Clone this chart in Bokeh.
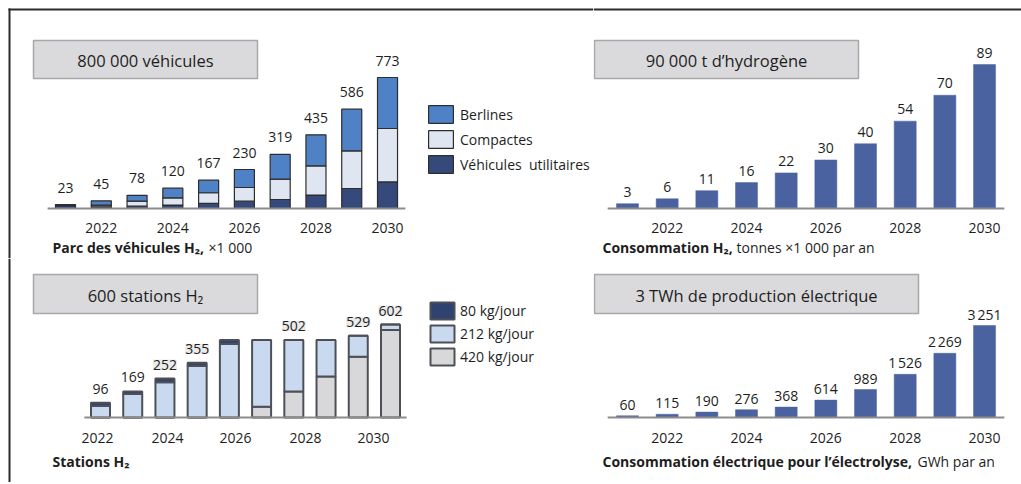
from bokeh.plotting import figure
from bokeh.layouts import column, row
from bokeh.models import (ColumnDataSource, LabelSet, Label, Legend, LegendItem,
                          FixedTicker, Range1d)
from bokeh.core.properties import value
from bokeh.embed import file_html
from bokeh.resources import INLINE

# ---------------- data ----------------
years = [2021, 2022, 2023, 2024, 2025, 2026, 2027, 2028, 2029, 2030]
tick_years = [2022, 2024, 2026, 2028, 2030]

# Parc des véhicules H2 (x 1 000)
veh_utilitaires = [17, 10, 14, 20, 30, 43, 53, 79, 118, 157]
veh_compactes = [2, 10, 30, 43, 63, 81, 120, 173, 222, 315]
veh_berlines = [4, 25, 34, 57, 74, 106, 146, 183, 246, 301]
veh_totaux = [23, 45, 78, 120, 167, 230, 319, 435, 586, 773]

# Consommation H2 (tonnes x 1 000 par an)
h2_conso = [3, 6, 11, 16, 22, 30, 40, 54, 70, 89]

# Stations H2
st_80 = [22, 17, 24, 22, 26, 0, 0, 0, 0, 0]
st_212 = [74, 152, 228, 333, 476, 433, 333, 236, 135, 35]
st_420 = [0, 0, 0, 0, 0, 69, 169, 266, 394, 567]
st_totaux = [96, 169, 252, 355, 502, 502, 502, 502, 529, 602]
st_labels = ["96", "169", "252", "355", "", "", "502", "", "529", "602"]
st_label_boxed = [False, False, True, True, False, False, True, False, True, True]
st_tick_labels = ["2022", "2024", "2026", "2028", "2030"]

# Consommation électrique pour l'électrolyse (GWh par an)
elec_conso = [60, 115, 190, 276, 368, 614, 989, 1526, 2269, 3251]

# ---------------- style ----------------
FONT = "Open Sans"
TXT = "#1e1e1e"
BOX_FILL = "#dadadc"
BOX_LINE = "#a8a8a8"
BASE_LINE = "#8c8c8c"
BAR_BLUE = "#4a62a0"
FRAME = "#2b2b2b"


def fmt(v):
    s = f"{v:,}"
    return s.replace(",", "\u202f")


def make_panel(width, height, left, top, bar0_x, step, base_y, upp, standoff,
               frame_top=False, frame_left=False):
    x_start = years[0] - (bar0_x - left) / step
    x_end = x_start + width / step
    y_end = (base_y - top) * upp
    y_start = -(top + height - base_y) * upp
    p = figure(width=width, height=height,
               x_range=Range1d(x_start, x_end), y_range=Range1d(y_start, y_end),
               output_backend="svg", toolbar_location=None, y_axis_location=None,
               min_border_left=0, min_border_right=0, min_border_top=0,
               min_border_bottom=0)
    p.outline_line_color = None
    p.xgrid.visible = False
    p.ygrid.visible = False
    p.background_fill_color = "white"
    p.border_fill_color = "white"
    ax = p.xaxis[0]
    ax.fixed_location = 0
    ax.axis_line_color = None
    ax.major_tick_line_color = None
    ax.minor_tick_line_color = None
    ax.major_tick_out = 0
    ax.major_tick_in = 0
    ax.major_label_standoff = standoff
    ax.major_label_text_font = FONT
    ax.major_label_text_font_size = "14px"
    ax.major_label_text_color = TXT
    ax.ticker = FixedTicker(ticks=tick_years)

    def fx(X):
        return x_start + (X - left) / step

    def fy(Y):
        return (base_y - Y) * upp

    if frame_top:
        x_from = fx(8) if frame_left else x_start
        p.segment(x0=[x_from], x1=[x_end], y0=[fy(9)], y1=[fy(9)],
                  line_color=FRAME, line_width=2)
    if frame_left:
        y_from = fy(8) if frame_top else y_end
        p.segment(x0=[fx(9)], x1=[fx(9)], y0=[y_start], y1=[y_from],
                  line_color=FRAME, line_width=2)
    return p, fx, fy


def title_box(p, fx, fy, l, r, t, b, text):
    p.quad(left=[fx(l)], right=[fx(r)], top=[fy(t)], bottom=[fy(b)],
           fill_color=BOX_FILL, line_color=BOX_LINE, line_width=1.5)
    p.text(x=[fx((l + r) / 2)], y=[fy((t + b) / 2 + 1)], text=[text],
           text_align="center", text_baseline="middle",
           text_font=value(FONT), text_font_size="16.5px", text_color=TXT)


def axis_label(p, fx, fy, X, Y, bold, normal=None, bold_w=0):
    p.add_layout(Label(x=fx(X), y=fy(Y), text=bold, text_font=FONT,
                       text_font_style="bold", text_font_size="14px",
                       text_color=TXT, text_baseline="alphabetic"))
    if normal:
        p.add_layout(Label(x=fx(X), y=fy(Y), x_offset=bold_w, text=normal,
                           text_font=FONT, text_font_size="14px",
                           text_color=TXT, text_baseline="alphabetic"))


def baseline(p):
    p.segment(x0=[years[0] - 0.5], y0=[0], x1=[years[-1] + 0.5], y1=[0],
              line_color=BASE_LINE, line_width=2)


def value_labels(p, xs, ys, texts, gap_units, boxed=None):
    if boxed is None:
        boxed = [False] * len(xs)
    for flag in (False, True):
        idx = [i for i in range(len(xs)) if boxed[i] == flag and texts[i]]
        if not idx:
            continue
        src = ColumnDataSource(dict(x=[xs[i] for i in idx],
                                    y=[ys[i] + gap_units for i in idx],
                                    t=[texts[i] for i in idx]))
        kw = {}
        if flag:
            kw = dict(background_fill_color="#ebebeb")
        p.add_layout(LabelSet(x="x", y="y", text="t", source=src,
                              text_align="center", text_baseline="alphabetic",
                              text_font=value(FONT), text_font_size="14px",
                              text_color=TXT, **kw))


TOP_H = 258
BOT_H = 224
LEFT_W = 593
RIGHT_W = 428

# ---------------- panel 1 : véhicules ----------------
upp1 = 773 / 131
p1, fx1, fy1 = make_panel(LEFT_W, TOP_H, 0, 0, 65, 35.78, 208, upp1, 14,
                          frame_top=True, frame_left=True)
title_box(p1, fx1, fy1, 33, 257, 40, 78, "800 000 véhicules")
src1 = ColumnDataSource(dict(year=years, u=veh_utilitaires, c=veh_compactes, b=veh_berlines))
r1 = p1.vbar_stack(["u", "c", "b"], x="year", width=0.56, source=src1,
                   fill_color=["#35497a", "#dfe6f2", "#4f81c7"],
                   line_color="#2d2d2d", line_width=1.2)
baseline(p1)
value_labels(p1, years, veh_totaux, [fmt(v) for v in veh_totaux], 12 * upp1)
leg1 = Legend(items=[LegendItem(label="Berlines", renderers=[r1[2]]),
                     LegendItem(label="Compactes", renderers=[r1[1]]),
                     LegendItem(label="Véhicules  utilitaires", renderers=[r1[0]])],
              location=(425, 83), padding=0, margin=0, border_line_color=None,
              background_fill_alpha=0, glyph_width=31, glyph_height=22,
              label_height=22, spacing=3, label_standoff=4,
              label_text_font=FONT, label_text_font_size="14px",
              label_text_color=TXT)
p1.add_layout(leg1)
axis_label(p1, fx1, fy1, 52, 247, "Parc des véhicules H₂,", "×1 000", 156)

# ---------------- panel 2 : hydrogène ----------------
upp2 = 89 / 144
p2, fx2, fy2 = make_panel(RIGHT_W, TOP_H, 593, 0, 627, 39.67, 208, upp2, 14,
                          frame_top=True)
title_box(p2, fx2, fy2, 594, 858, 40, 78, "90 000 t d’hydrogène")
src2 = ColumnDataSource(dict(year=years, v=h2_conso))
p2.vbar(x="year", top="v", bottom=0, width=0.555, source=src2,
        fill_color=BAR_BLUE, line_color=BAR_BLUE, line_width=0.5)
baseline(p2)
value_labels(p2, years, h2_conso, [fmt(v) for v in h2_conso], 7 * upp2)
axis_label(p2, fx2, fy2, 602, 247, "Consommation H₂,", "tonnes ×1 000 par an", 134)

# ---------------- panel 3 : stations ----------------
upp3 = 602 / 93
p3, fx3, fy3 = make_panel(LEFT_W, BOT_H, 0, 258, 100, 32.22, 417, upp3, 15,
                          frame_left=True)
title_box(p3, fx3, fy3, 33, 257, 274, 313, "600 stations H₂")
src3 = ColumnDataSource(dict(year=years, a=st_420, b=st_212, c=st_80))
r3 = p3.vbar_stack(["a", "b", "c"], x="year", width=0.59, source=src3,
                   fill_color=["#d8d8db", "#c8d9f0", "#2f4270"],
                   line_color="#4d5157", line_width=2)
baseline(p3)
value_labels(p3, years, st_totaux, st_labels, 9 * upp3, st_label_boxed)
tick_px = [97, 167, 235, 305, 373]
st_ticks = [fx3(t) for t in tick_px]
p3.xaxis[0].ticker = FixedTicker(ticks=st_ticks)
p3.xaxis[0].major_label_overrides = {t: lab for t, lab in zip(st_ticks, st_tick_labels)}
leg3 = Legend(items=[LegendItem(label="80 kg/jour", renderers=[r3[2]]),
                     LegendItem(label="212 kg/jour", renderers=[r3[1]]),
                     LegendItem(label="420 kg/jour", renderers=[r3[0]])],
              location=(427, 115), padding=0, margin=0, border_line_color=None,
              background_fill_alpha=0, glyph_width=30, glyph_height=21,
              label_height=21, spacing=2, label_standoff=3,
              label_text_font=FONT, label_text_font_size="14px",
              label_text_color=TXT)
p3.add_layout(leg3)
axis_label(p3, fx3, fy3, 52, 461, "Stations H₂")

# ---------------- panel 4 : électricité ----------------
upp4 = 3251 / 92
p4, fx4, fy4 = make_panel(RIGHT_W, BOT_H, 593, 258, 627, 39.67, 417, upp4, 15)
title_box(p4, fx4, fy4, 594, 918, 274, 313, "3 TWh de production électrique")
src4 = ColumnDataSource(dict(year=years, v=elec_conso))
p4.vbar(x="year", top="v", bottom=0, width=0.555, source=src4,
        fill_color=BAR_BLUE, line_color=BAR_BLUE, line_width=0.5)
baseline(p4)
value_labels(p4, years, elec_conso, [fmt(v) for v in elec_conso], 6 * upp4)
axis_label(p4, fx4, fy4, 602, 461, "Consommation électrique pour l’électrolyse,",
           "GWh par an", 315)

layout = column(row(p1, p2), row(p3, p4))

open("out.html", "w").write(file_html(layout, INLINE))
